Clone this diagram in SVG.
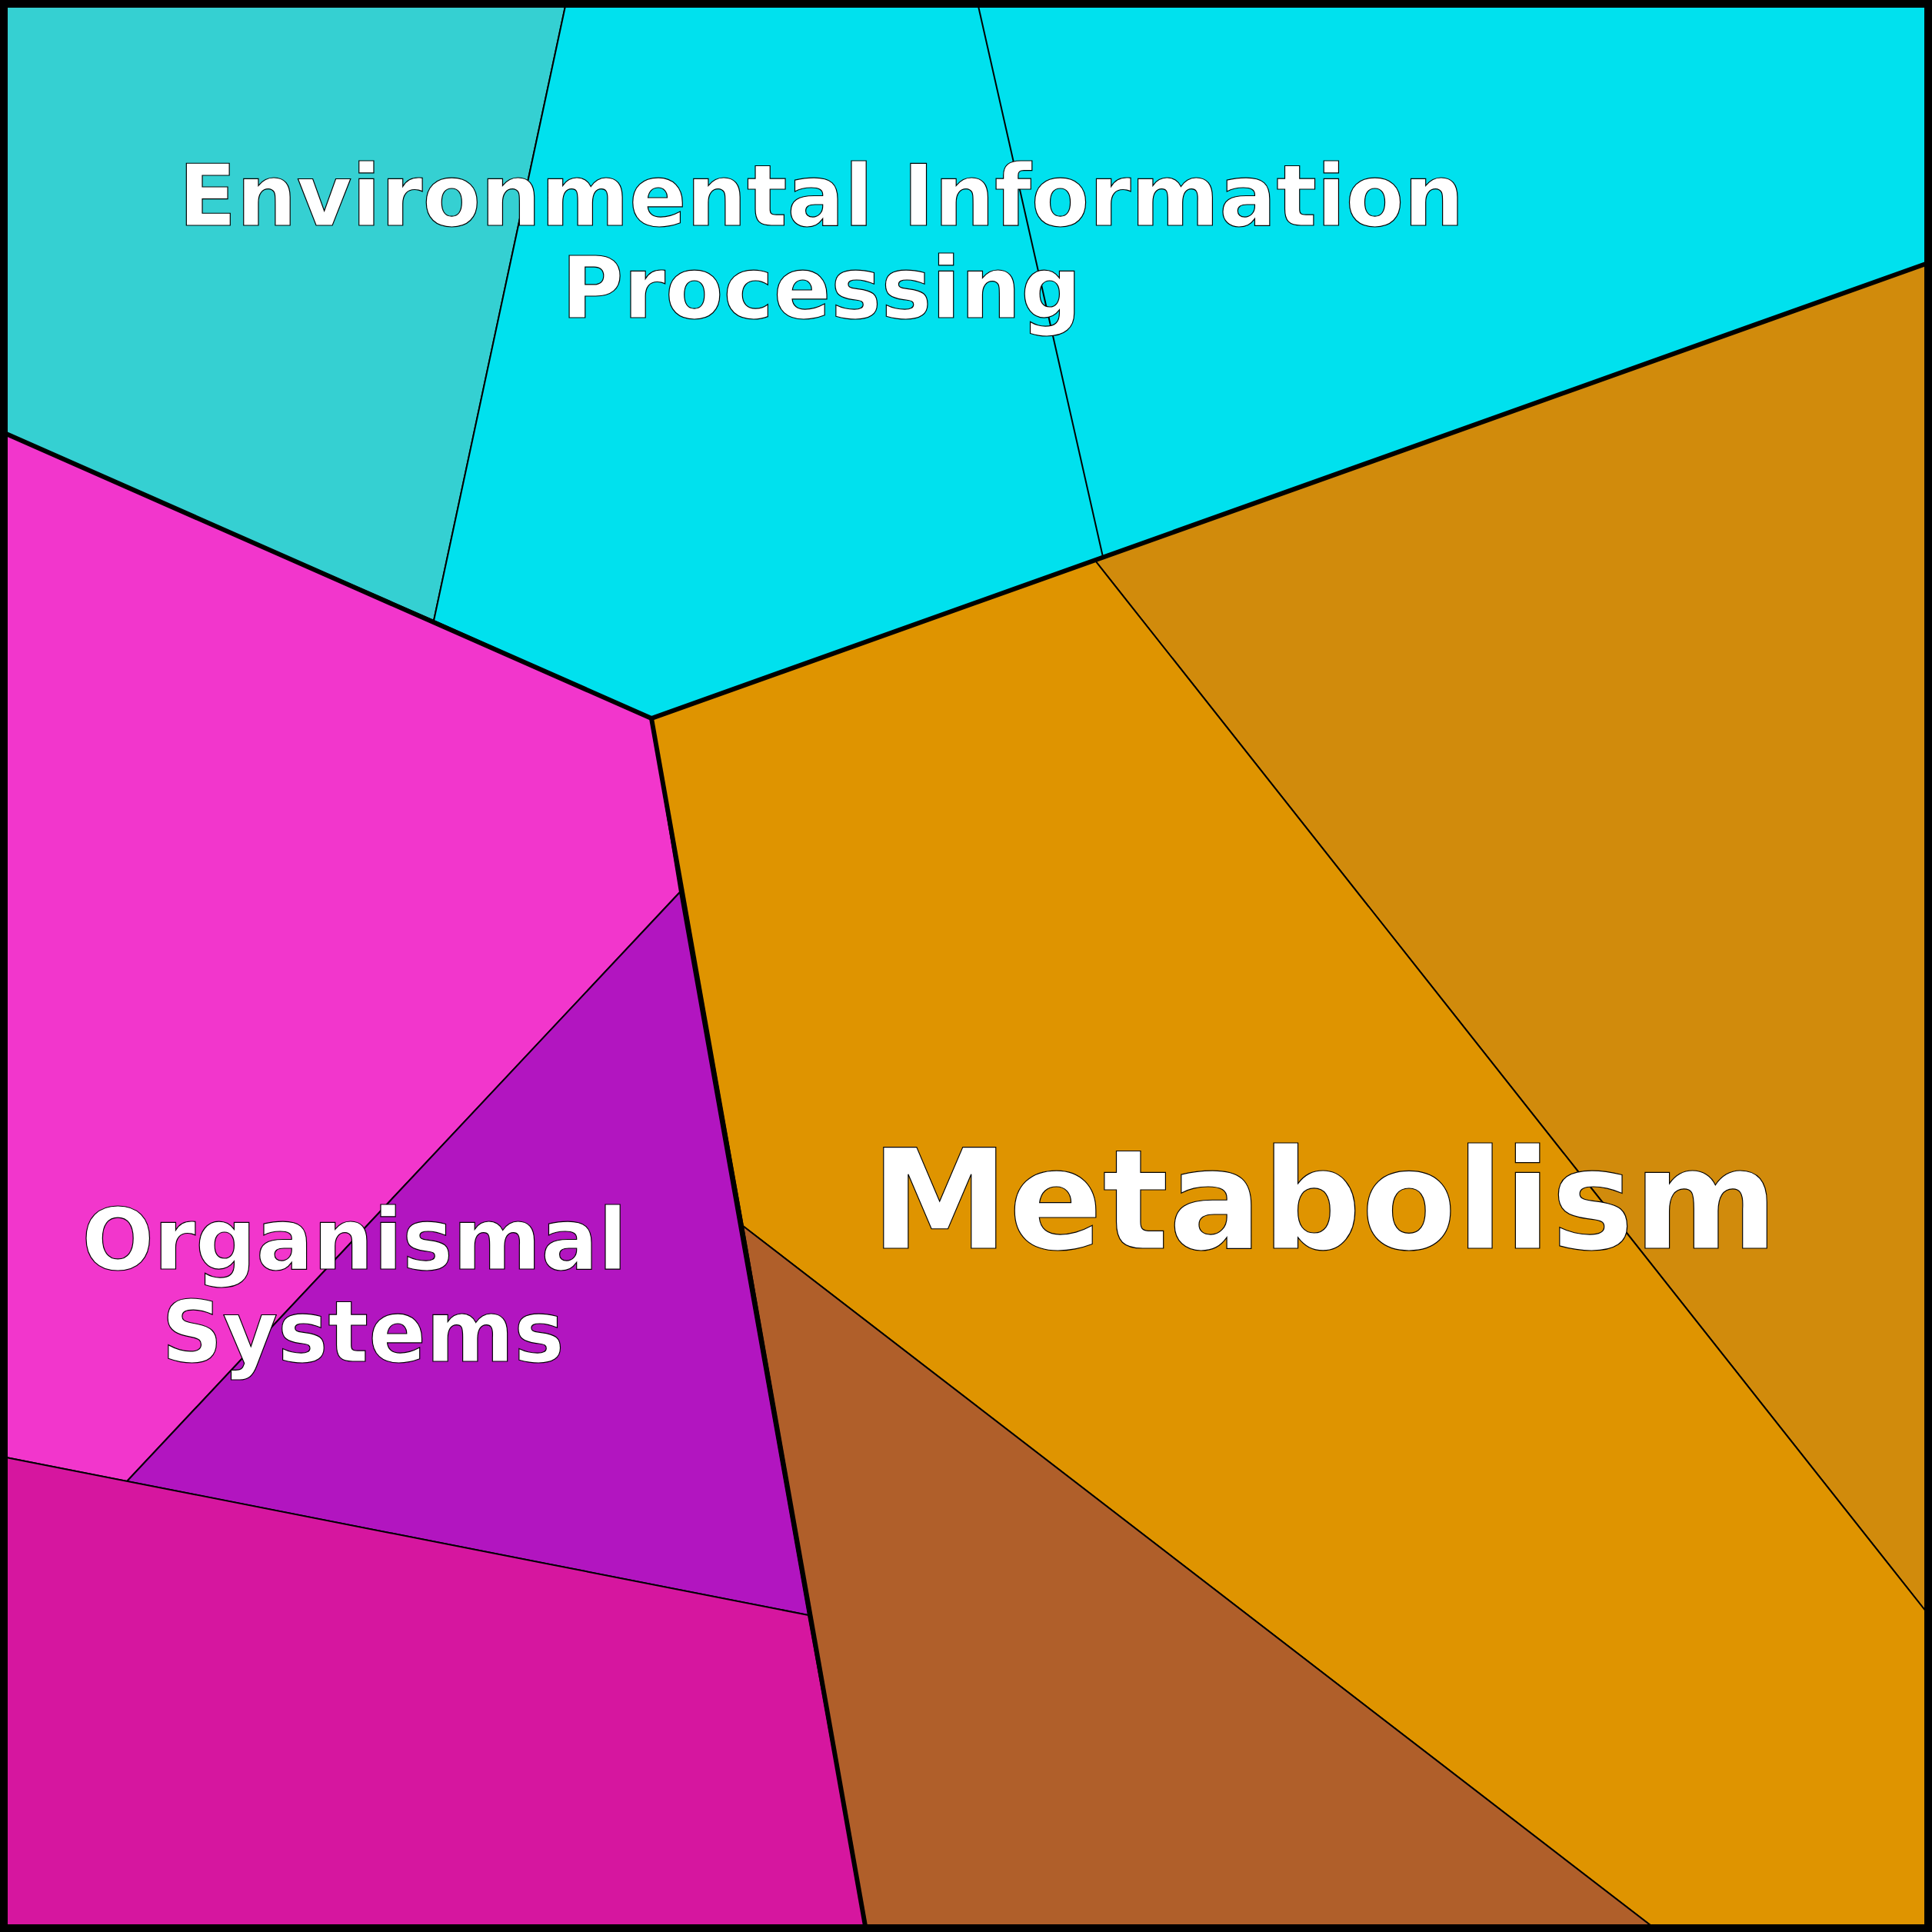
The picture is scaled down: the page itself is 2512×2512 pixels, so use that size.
<svg xmlns="http://www.w3.org/2000/svg" width="2512" height="2512" viewBox="0 0 2512 2512">
<style>
.r{stroke:#000;stroke-width:2}
.t{font-family:"DejaVu Sans",sans-serif;font-weight:bold;fill:#fff;stroke:#000;stroke-width:1.2;text-anchor:middle}
</style>
<g id="cells">
<polygon class="r" fill="#35D0D2" points="8,8 735,8 564,807 8,564"/>
<polygon class="r" fill="#00E1EE" points="735,8 2504,8 2504,343 1434,724 847,934 564,807"/>
<polygon class="r" fill="#D18B0C" points="1434,724 2504,343 2504,2095 1424,729"/>
<polygon class="r" fill="#DF9400" points="847,934 1424,729 2504,2095 2504,2504 2147,2504 966,1594"/>
<polygon class="r" fill="#B05F2A" points="966,1594 2147,2504 1125,2504"/>
<polygon class="r" fill="#F236CC" points="8,564 847,934 884,1160 165,1926 8,1895"/>
<polygon class="r" fill="#B215C0" points="884,1160 1051,2100 165,1926"/>
<polygon class="r" fill="#D6169F" points="8,1895 1051,2100 1125,2504 8,2504"/>
</g>
<g id="connectors" fill="none" stroke="#000">
<line x1="1272" y1="8" x2="1434" y2="724" stroke-width="2"/>
<polyline points="8,564 847,934 2504,343" stroke-width="6"/>
<line x1="847" y1="934" x2="1125" y2="2504" stroke-width="6"/>
<rect x="5" y="5" width="2502" height="2502" stroke-width="10"/>
</g>
<g id="labels">
<text class="t" x="1068" y="293" font-size="110">Environmental Information</text>
<text class="t" x="1068" y="413" font-size="110">Processing</text>
<text class="t" x="461" y="1650" font-size="110">Organismal</text>
<text class="t" x="472" y="1770" font-size="110">Systems</text>
<text class="t" x="1722" y="1623" font-size="180">Metabolism</text>
</g>
</svg>
